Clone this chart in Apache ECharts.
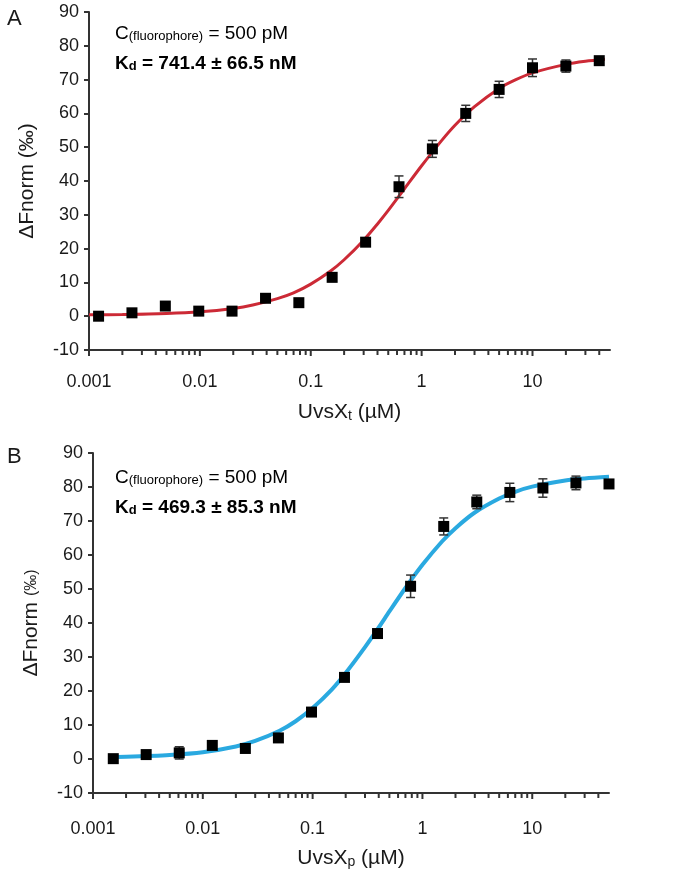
<!DOCTYPE html>
<html><head><meta charset="utf-8">
<script src="https://cdn.jsdelivr.net/npm/echarts@6/dist/echarts.min.js"></script>
<style>html,body{margin:0;padding:0;background:#fff}#c{width:692px;height:877px}</style>
</head><body><div id="c"></div>
<script>
// Panel A: UvsX_t
const concA = [0.00122, 0.00244, 0.00488, 0.00977, 0.0195, 0.0391, 0.0781, 0.156, 0.3125, 0.625, 1.25, 2.5, 5, 10, 20, 40];
const valA  = [0, 1.0, 3.0, 1.5, 1.5, 5.3, 4.0, 11.5, 21.9, 38.3, 49.5, 60.0, 67.1, 73.5, 74.0, 75.6];
const errA  = [0.5, 0.6, 1.2, 0.6, 0.6, 0.8, 0.5, 1.2, 0.8, 3.2, 2.5, 2.4, 2.4, 2.6, 1.8, 1.0];
const fitXA = [0.001,0.002,0.005,0.01,0.02,0.03,0.05,0.07,0.1,0.15,0.2,0.3,0.4,0.5,0.7,1,1.5,2,3,5,7,10,20,30,45];
const fitYA = [0.4,0.5,0.8,1.3,2.3,3.3,5.2,6.9,9.5,13.3,16.7,22.5,27.3,31.3,37.7,44.5,51.8,56.5,62.0,67.4,69.9,72.0,74.5,75.4,76.0];
// Panel B: UvsX_p
const concB = [0.00153, 0.00305, 0.0061, 0.0122, 0.0244, 0.0488, 0.0977, 0.195, 0.39, 0.78, 1.5625, 3.125, 6.25, 12.5, 25, 50];
const valB  = [0.1, 1.3, 1.8, 4.0, 3.1, 6.2, 13.8, 24.0, 36.9, 50.8, 68.4, 75.6, 78.4, 79.7, 81.2, 80.9];
const errB  = [0.6, 0.8, 1.8, 0.8, 0.8, 0.8, 0.6, 0.8, 0.8, 3.3, 2.5, 2.0, 2.7, 2.7, 2.0, 1.0];
const fitXB = [0.0015,0.002,0.005,0.01,0.02,0.03,0.05,0.07,0.1,0.15,0.2,0.3,0.4,0.5,0.7,1,1.5,2,3,5,7,10,20,30,50];
const fitYB = [0.6,0.65,1.2,2.0,3.7,5.3,8.3,11.1,15.0,20.5,25.3,32.9,38.7,43.4,50.3,57.1,63.9,67.9,72.5,76.6,78.6,80.1,81.9,82.5,83.0];
// Axis ticks
const majorTicks = [0.001, 0.01, 0.1, 1, 10];
const majorLabels = ['0.001', '0.01', '0.1', '1', '10'];
const minorMult = [2,3,4,5,6,7,8,9];
const xMin = 0.001, xMax = 50, yMin = -10, yMax = 90;

const FONT = '"Liberation Sans", Arial, Helvetica, sans-serif';
const AX = '#333';
const TXT = '#1a1a1a';

function tickData(){
  const d = [];
  majorTicks.forEach(m => {
    d.push([m, yMin, 1]);
    minorMult.forEach(k => { const v = m*k; if (v < xMax) d.push([v, yMin, 0]); });
  });
  return d;
}
function labelFor(v){
  for (let i=0;i<majorTicks.length;i++){ if (Math.abs(Math.log10(v)-Math.log10(majorTicks[i]))<1e-6) return majorLabels[i]; }
  return '';
}
function xAxisCfg(gi, nameRich, gap, margin){
  return {
    type:'log', logBase:10, gridIndex:gi, min:xMin, max:xMax,
    name: nameRich, nameLocation:'middle', nameGap: gap,
    nameTextStyle:{ rich:{ a:{fontFamily:FONT,fontSize:21,color:TXT,verticalAlign:'bottom',lineHeight:26}, s:{fontFamily:FONT,fontSize:14,color:TXT,verticalAlign:'bottom',lineHeight:10} } },
    axisLine:{ show:true, onZero:false, lineStyle:{color:AX,width:2} },
    axisTick:{ show:false },
    splitLine:{ show:false },
    axisLabel:{ fontFamily:FONT, fontSize:18, color:TXT, margin: margin, formatter: v => labelFor(v), showMinLabel:true, showMaxLabel:false }
  };
}
function yAxisCfg(gi, nameRich, rich){
  return {
    type:'value', gridIndex:gi, min:yMin, max:yMax, interval:10,
    name: nameRich, nameLocation:'middle', nameGap: 51, nameRotate: 90,
    nameTextStyle:{ rich: rich },
    axisLine:{ show:true, onZero:false, lineStyle:{color:AX,width:2} },
    axisTick:{ show:true, inside:false, length:5, lineStyle:{color:AX,width:2} },
    splitLine:{ show:false },
    axisLabel:{ fontFamily:FONT, fontSize:18, color:TXT, margin:10 }
  };
}
function zip(a,b){ return a.map((x,i)=>[x,b[i]]); }
function errData(c,v,e){ return c.map((x,i)=>[x, v[i]-e[i], v[i]+e[i]]); }
function errRender(params, api){
  const x = api.value(0);
  const lo = api.coord([x, api.value(1)]);
  const hi = api.coord([x, api.value(2)]);
  const w = 4.5;
  const st = {stroke:'#333', lineWidth:1.5};
  return {type:'group', children:[
    {type:'line', shape:{x1:lo[0],y1:lo[1],x2:hi[0],y2:hi[1]}, style:st},
    {type:'line', shape:{x1:lo[0]-w,y1:lo[1],x2:lo[0]+w,y2:lo[1]}, style:st},
    {type:'line', shape:{x1:hi[0]-w,y1:hi[1],x2:hi[0]+w,y2:hi[1]}, style:st}
  ]};
}
function tickRender(params, api){
  const p = api.coord([api.value(0), api.value(1)]);
  const len = api.value(2) ? 6 : 5;
  return {type:'line', shape:{x1:p[0],y1:p[1],x2:p[0],y2:p[1]+len}, style:{stroke:AX, lineWidth:2}};
}
function seriesFor(i, c, v, e, fx, fy, color, lw){
  return [
    {type:'line', xAxisIndex:i, yAxisIndex:i, data:zip(fx,fy), smooth:0.3, showSymbol:false, lineStyle:{color:color,width:lw}, z:1, silent:true},
    {type:'custom', xAxisIndex:i, yAxisIndex:i, data:errData(c,v,e), renderItem:errRender, encode:{x:0,y:[1,2]}, z:2, clip:false, silent:true},
    {type:'scatter', xAxisIndex:i, yAxisIndex:i, data:zip(c,v), symbol:'rect', symbolSize:11, itemStyle:{color:'#000', opacity:1}, z:3, clip:false, silent:true},
    {type:'custom', xAxisIndex:i, yAxisIndex:i, data:tickData(), renderItem:tickRender, encode:{x:0,y:1}, z:4, clip:false, silent:true}
  ];
}
const yRichA = { a:{fontFamily:FONT,fontSize:21,color:TXT} };
const yRichB = { a:{fontFamily:FONT,fontSize:21,color:TXT}, p:{fontFamily:FONT,fontSize:16,color:TXT} };

const chart = echarts.init(document.getElementById('c'), null, {renderer:'canvas'});
const mainT = {fontFamily:FONT,fontSize:19,color:TXT,verticalAlign:'bottom',lineHeight:24};
const subT = {fontFamily:FONT,fontSize:13,color:TXT,verticalAlign:'bottom',lineHeight:8};
const boldT = {fontFamily:FONT,fontSize:19,fontWeight:'bold',color:TXT,verticalAlign:'bottom',lineHeight:24};
const boldS = {fontFamily:FONT,fontSize:13,fontWeight:'bold',color:TXT,verticalAlign:'bottom',lineHeight:6};
function annot(top, kd){
  return [
    {type:'text', left:115, top:top, style:{text:'{a|C}{s|(fluorophore)}{a| = 500 pM}', rich:{a:mainT, s:subT}}},
    {type:'text', left:115, top:top+30, style:{text:'{a|K}{s|d}{a| = '+kd+'}', rich:{a:boldT, s:boldS}}}
  ];
}
chart.setOption({
  animation:false,
  backgroundColor:'#fff',
  grid:[
    {left:89, top:12, right:82, height:338},
    {left:93, top:453, right:83, height:340}
  ],
  xAxis:[
    xAxisCfg(0, '{a|UvsX}{s|t}{a| (µM)}', 47, 23),
    xAxisCfg(1, '{a|UvsX}{s|p}{a| (µM)}', 50, 27)
  ],
  yAxis:[
    yAxisCfg(0, '{a|ΔFnorm (‰)}', yRichA),
    yAxisCfg(1, '{a|ΔFnorm }{p|(‰)}', yRichB)
  ],
  graphic:[
    {type:'text', left:7, top:8, style:{text:'A', fontFamily:FONT, fontSize:22, fill:TXT}},
    {type:'text', left:7, top:446, style:{text:'B', fontFamily:FONT, fontSize:22, fill:TXT}}
  ].concat(annot(24, '741.4 ± 66.5 nM')).concat(annot(468, '469.3 ± 85.3 nM')),
  series: [].concat(
    seriesFor(0, concA, valA, errA, fitXA, fitYA, '#CC2A36', 3),
    seriesFor(1, concB, valB, errB, fitXB, fitYB, '#2AA9E0', 4)
  )
});
</script></body></html>
